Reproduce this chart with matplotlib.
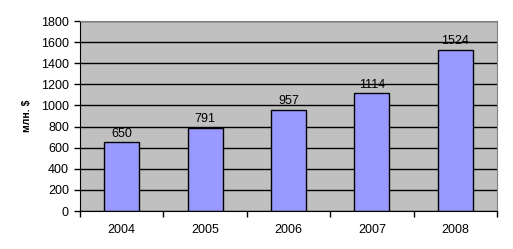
import matplotlib.pyplot as plt
import numpy as np

years = ['2004', '2005', '2006', '2007', '2008']
values = [650, 791, 957, 1114, 1524]

fig = plt.figure(figsize=(5.13, 2.49), dpi=100)
ax = fig.add_axes([80 / 513, 1 - 211 / 249, 417 / 513, 190 / 249])

x = np.arange(len(years))
ax.set_facecolor('#c0c0c0')
ax.set_axisbelow(True)
ax.yaxis.grid(True, color='black', linewidth=1)
bars = ax.bar(x, values, width=0.42, color='#9999ff', edgecolor='black', linewidth=1)
ax.bar_label(bars, labels=[str(v) for v in values], padding=2, fontsize=9,
             family='Liberation Sans')

ax.set_xlim(-0.5, len(years) - 0.5)
ax.set_ylim(0, 1800)
ax.set_yticks(range(0, 1801, 200))
ax.set_xticks(x)
ax.set_xticklabels(years)
ax.set_xticks(np.arange(-0.5, len(years)), minor=True)
ax.tick_params(axis='x', which='major', length=0, pad=9, labelsize=9)
ax.tick_params(axis='x', which='minor', length=4, width=1, direction='out')
ax.tick_params(axis='y', length=4, width=1, direction='out', labelsize=9, pad=4)
for lbl in ax.get_xticklabels() + ax.get_yticklabels():
    lbl.set_family('Liberation Sans')

ax.spines['left'].set_color('black')
ax.spines['bottom'].set_color('black')
ax.spines['top'].set_color('#808080')
ax.spines['right'].set_color('#808080')

fig.text(27 / 513, 1 - 116 / 249, 'млн. $', rotation=90, fontsize=7.5, fontweight='bold',
         family='Liberation Sans', ha='center', va='center')

fig.savefig('out.png', dpi=100)
